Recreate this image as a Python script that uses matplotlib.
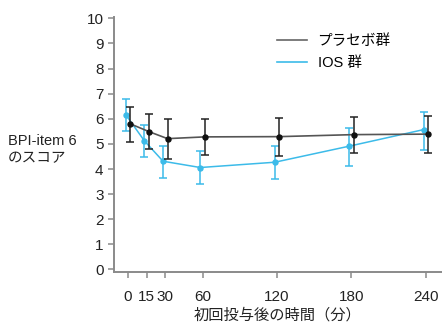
# BPI-item 6 score over time, placebo vs IOS

import numpy as np
import matplotlib
matplotlib.use('Agg')
import matplotlib.pyplot as plt

plt.rcParams['font.family'] = ['Liberation Sans', 'Noto Sans CJK JP', 'DejaVu Sans']

# %%
# Data
minutes = [0, 15, 30, 60, 120, 180, 240]

placebo_mean = [5.80, 5.49, 5.21, 5.28, 5.29, 5.37, 5.39]
placebo_low = [5.09, 4.79, 4.39, 4.54, 4.53, 4.65, 4.65]
placebo_high = [6.48, 6.20, 5.99, 6.00, 6.05, 6.08, 6.11]

ios_mean = [6.16, 5.12, 4.31, 4.06, 4.27, 4.91, 5.57]
ios_low = [5.53, 4.46, 3.66, 3.40, 3.59, 4.13, 4.76]
ios_high = [6.79, 5.77, 4.92, 4.71, 4.93, 5.65, 6.28]

xtick_labels = ['0', '15', '30', '60', '120', '180', '240']
yticks = list(range(0, 11))

# %%
gray = '#555555'
spine_gray = '#8a8a8a'
blue = '#3cbbe9'

x = np.array(minutes, dtype=float)
p_mean = np.array(placebo_mean)
i_mean = np.array(ios_mean)
p_err = [p_mean - np.array(placebo_low), np.array(placebo_high) - p_mean]
i_err = [i_mean - np.array(ios_low), np.array(ios_high) - i_mean]

fig = plt.figure(figsize=(4.42, 3.23), dpi=100)
ax = fig.add_axes([0.258, 0.158, 0.742, 0.789])

# IOS drawn slightly to the left, placebo slightly to the right
ax.errorbar(x - 1.8, i_mean, yerr=i_err, color=blue, ecolor=blue, lw=1.1,
            elinewidth=1.1, capsize=3, capthick=1.1, marker='o', ms=3.6,
            zorder=2)
ax.errorbar(x + 1.8, p_mean, yerr=p_err, color=gray, ecolor='#222222', lw=1.2,
            elinewidth=1.1, capsize=3, capthick=1.1, marker='o', ms=3.6,
            mfc='#111111', mec='#111111', zorder=3)

ax.set_xlim(-11.3, 253)
ax.set_ylim(-0.1, 10.05)
ax.set_xticks(minutes)
ax.set_xticklabels(xtick_labels)
ax.set_yticks(yticks)

for side in ['top', 'right']:
    ax.spines[side].set_visible(False)
for side in ['left', 'bottom']:
    ax.spines[side].set_color(spine_gray)
    ax.spines[side].set_linewidth(1.4)

ax.tick_params(axis='both', colors=spine_gray, labelcolor='#222222',
               length=4, width=1.1, labelsize=11)
ax.tick_params(axis='x', pad=9)

ax.set_xlabel('初回投与後の時間（分）', fontsize=11, color='#222222', labelpad=3)
fig.text(0.018, 0.537, 'BPI-item 6\nのスコア', fontsize=10.5, color='#222222',
         ha='left', va='center', linespacing=1.2)

# legend entries (line only)
ax.plot([], [], color='#666666', lw=1.2, label='プラセボ群')
ax.plot([], [], color=blue, lw=1.2, label='IOS 群')
handles, labels = ax.get_legend_handles_labels()
ax.legend(handles[-2:], labels[-2:], loc='upper left',
          bbox_to_anchor=(0.456, 0.985), frameon=False, fontsize=10.5,
          handlelength=2.05, handletextpad=0.75, labelspacing=0.55)

fig.savefig('out.png', dpi=100)
